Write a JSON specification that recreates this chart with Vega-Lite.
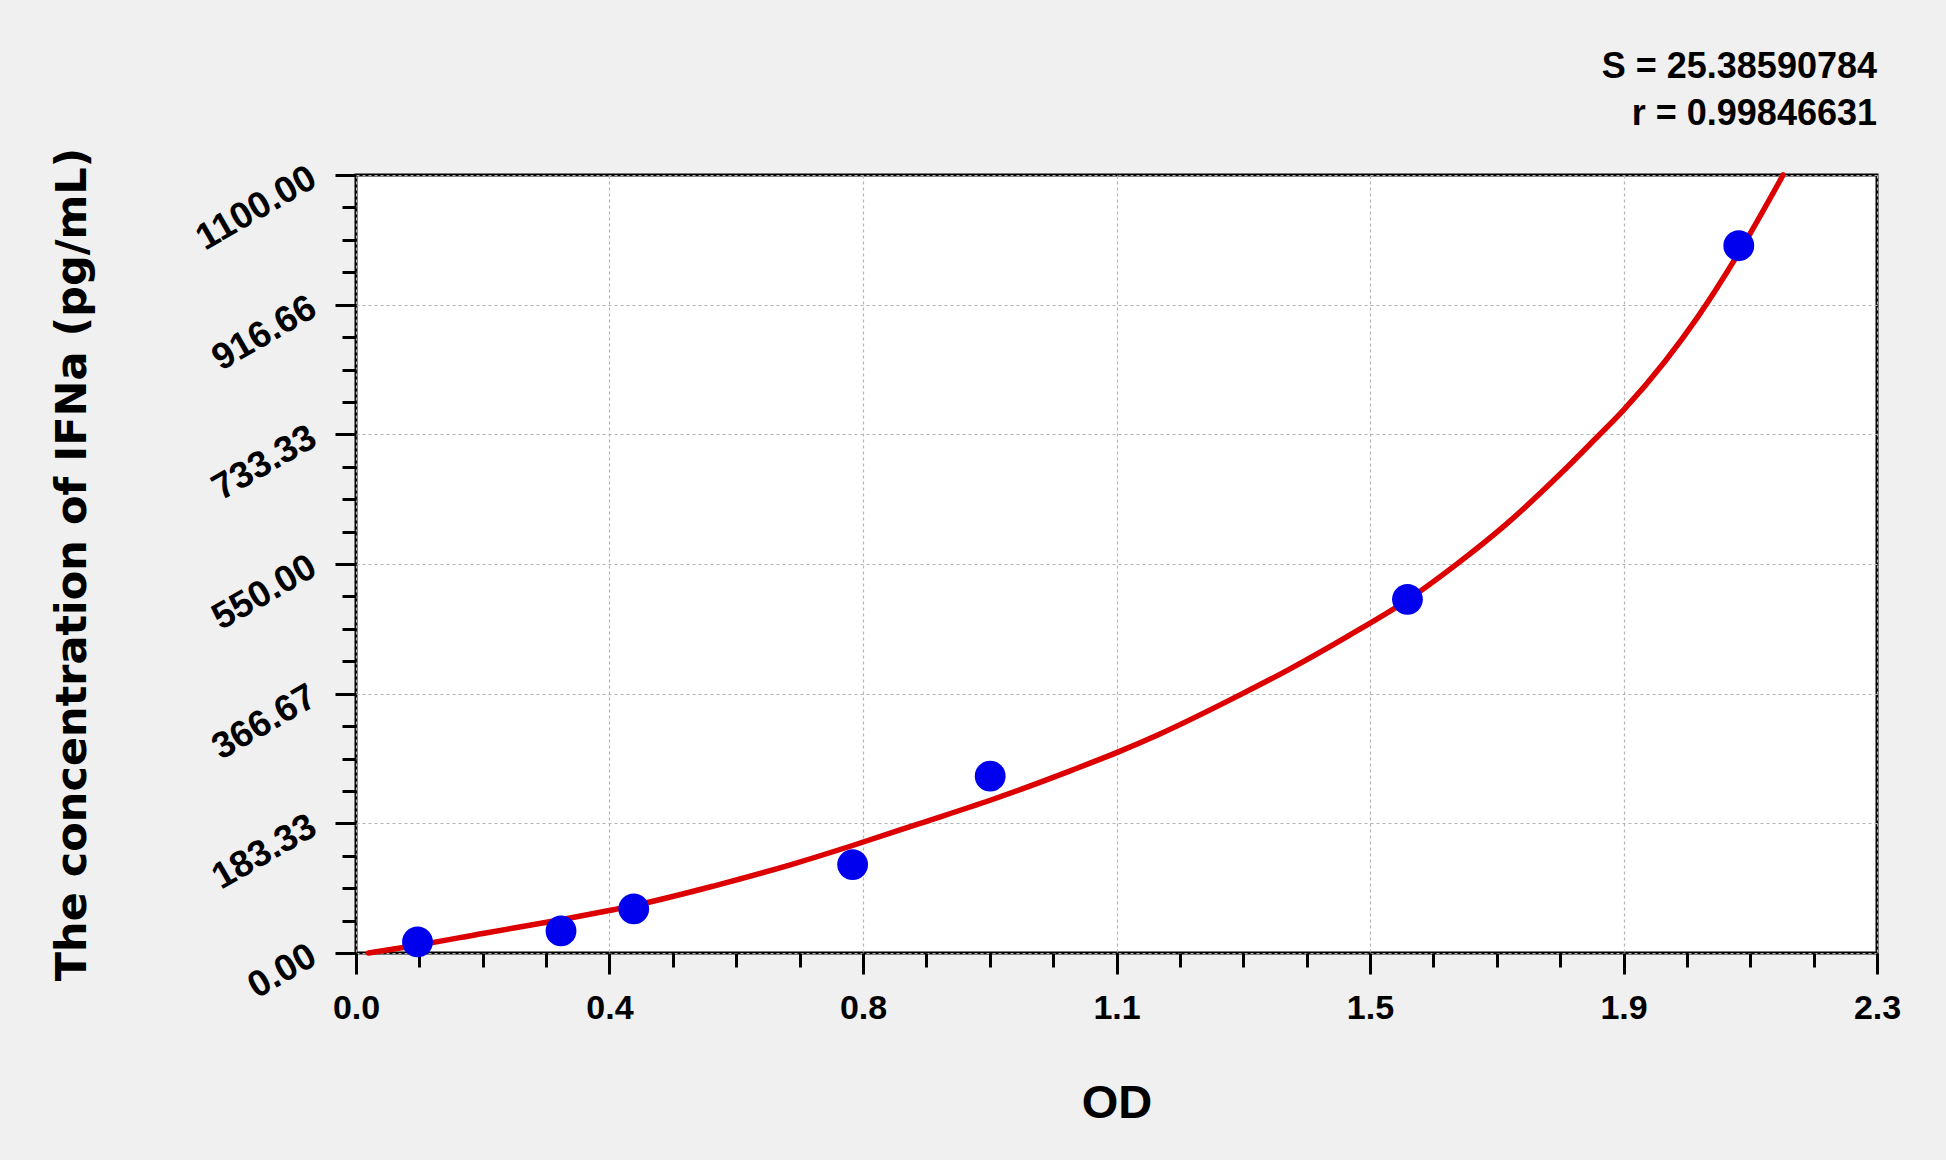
{
  "$schema": "https://vega.github.io/schema/vega-lite/v6.json",
  "autosize": {"type": "none"},
  "padding": {"left": 356, "top": 175, "right": 69, "bottom": 207},
  "width": 1521,
  "height": 778,
  "background": "#f0f0f0",
  "title": {
    "text": "S = 25.38590784",
    "subtitle": "r = 0.99846631",
    "anchor": "end",
    "frame": "group",
    "font": "Liberation Sans",
    "fontSize": 36,
    "fontWeight": "bold",
    "color": "#000000",
    "subtitleFont": "Liberation Sans",
    "subtitleFontSize": 36,
    "subtitleFontWeight": "bold",
    "subtitleColor": "#000000",
    "subtitlePadding": 11,
    "offset": 14
  },
  "datasets": {
    "standards": [
      {"od": 0.093, "conc": 15.63},
      {"od": 0.310, "conc": 31.25},
      {"od": 0.420, "conc": 62.5},
      {"od": 0.751, "conc": 125},
      {"od": 0.959, "conc": 250},
      {"od": 1.590, "conc": 500},
      {"od": 2.091, "conc": 1000}
    ],
    "curve": [
      {"od": 0.019, "conc": 0},
      {"od": 0.093, "conc": 11},
      {"od": 0.194, "conc": 28},
      {"od": 0.310, "conc": 47},
      {"od": 0.383, "conc": 60},
      {"od": 0.420, "conc": 67},
      {"od": 0.542, "conc": 95},
      {"od": 0.658, "conc": 125},
      {"od": 0.751, "conc": 152},
      {"od": 0.852, "conc": 183},
      {"od": 0.959, "conc": 216},
      {"od": 1.084, "conc": 259},
      {"od": 1.152, "conc": 284},
      {"od": 1.214, "conc": 309},
      {"od": 1.339, "conc": 366},
      {"od": 1.409, "conc": 400},
      {"od": 1.500, "conc": 448},
      {"od": 1.590, "conc": 499},
      {"od": 1.662, "conc": 548},
      {"od": 1.739, "conc": 606},
      {"od": 1.824, "conc": 680},
      {"od": 1.873, "conc": 726},
      {"od": 1.917, "conc": 768},
      {"od": 1.979, "conc": 836},
      {"od": 2.028, "conc": 898},
      {"od": 2.091, "conc": 990},
      {"od": 2.158, "conc": 1100}
    ]
  },
  "layer": [
    {
      "data": {"name": "curve"},
      "mark": {"type": "line", "color": "#dd0000", "strokeWidth": 5.5, "interpolate": "monotone", "strokeCap": "round"},
      "encoding": {
        "x": {
          "field": "od",
          "type": "quantitative",
          "scale": {"domain": [0, 2.3], "nice": false, "zero": false},
          "axis": {
            "orient": "bottom",
            "title": null,
            "labels": false,
            "grid": false,
            "domain": false,
            "tickSize": 14,
            "tickWidth": 3,
            "tickColor": "#000000",
            "values": [0.0958, 0.1917, 0.2875, 0.4792, 0.575, 0.6708, 0.8625, 0.9583, 1.0542, 1.2458, 1.3417, 1.4375, 1.6292, 1.725, 1.8208, 2.0125, 2.1083, 2.2042]
          }
        },
        "y": {
          "field": "conc",
          "type": "quantitative",
          "scale": {"domain": [0, 1100], "nice": false, "zero": false},
          "axis": {
            "orient": "left",
            "title": null,
            "labels": false,
            "grid": false,
            "domain": false,
            "tickSize": 14,
            "tickWidth": 3,
            "tickColor": "#000000",
            "values": [45.83, 91.67, 137.5, 229.17, 275, 320.83, 412.5, 458.33, 504.17, 595.83, 641.67, 687.5, 779.17, 825, 870.83, 962.5, 1008.33, 1054.17]
          }
        }
      }
    },
    {
      "data": {"name": "standards"},
      "mark": {"type": "circle", "color": "#0000ee", "opacity": 1, "size": 950},
      "encoding": {
        "x": {
          "field": "od",
          "type": "quantitative",
          "scale": {"domain": [0, 2.3], "nice": false, "zero": false},
          "axis": {
            "orient": "bottom",
            "title": "OD",
            "titleFontSize": 47,
            "titleBaseline": "alphabetic",
            "titleY": 164,
            "values": [0, 0.38333, 0.76667, 1.15, 1.53333, 1.91667, 2.3],
            "format": ".1f",
            "labelFontSize": 34,
            "labelPadding": 17,
            "tickSize": 21,
            "tickWidth": 3,
            "tickColor": "#000000",
            "domain": false,
            "grid": true,
            "gridColor": "#b4b4b4",
            "gridDash": [3, 3],
            "gridWidth": 1.2
          }
        },
        "y": {
          "field": "conc",
          "type": "quantitative",
          "scale": {"domain": [0, 1100], "nice": false, "zero": false},
          "axis": {
            "orient": "left",
            "title": "The concentration of IFNa (pg/mL)",
            "titleFont": "DejaVu Sans",
            "titleFontSize": 43,
            "titleAngle": 270,
            "titleBaseline": "alphabetic",
            "titleX": -271,
            "values": [0, 183.33, 366.67, 550, 733.33, 916.66, 1100],
            "format": ".2f",
            "labelFontSize": 37,
            "labelAngle": -30,
            "labelAlign": "right",
            "labelBaseline": "middle",
            "labelPadding": 22,
            "tickSize": 21,
            "tickWidth": 3,
            "tickColor": "#000000",
            "domain": false,
            "grid": true,
            "gridColor": "#b4b4b4",
            "gridDash": [3, 3],
            "gridWidth": 1.2
          }
        }
      }
    }
  ],
  "resolve": {"axis": {"x": "independent", "y": "independent"}},
  "config": {
    "view": {"fill": "#ffffff", "stroke": "#000000", "strokeWidth": 3},
    "axis": {
      "labelFont": "Liberation Sans",
      "labelFontSize": 33,
      "labelFontWeight": "bold",
      "labelColor": "#000000",
      "labelOverlap": false,
      "labelFlush": false,
      "titleFont": "Liberation Sans",
      "titleFontWeight": "bold",
      "titleColor": "#000000"
    }
  }
}
